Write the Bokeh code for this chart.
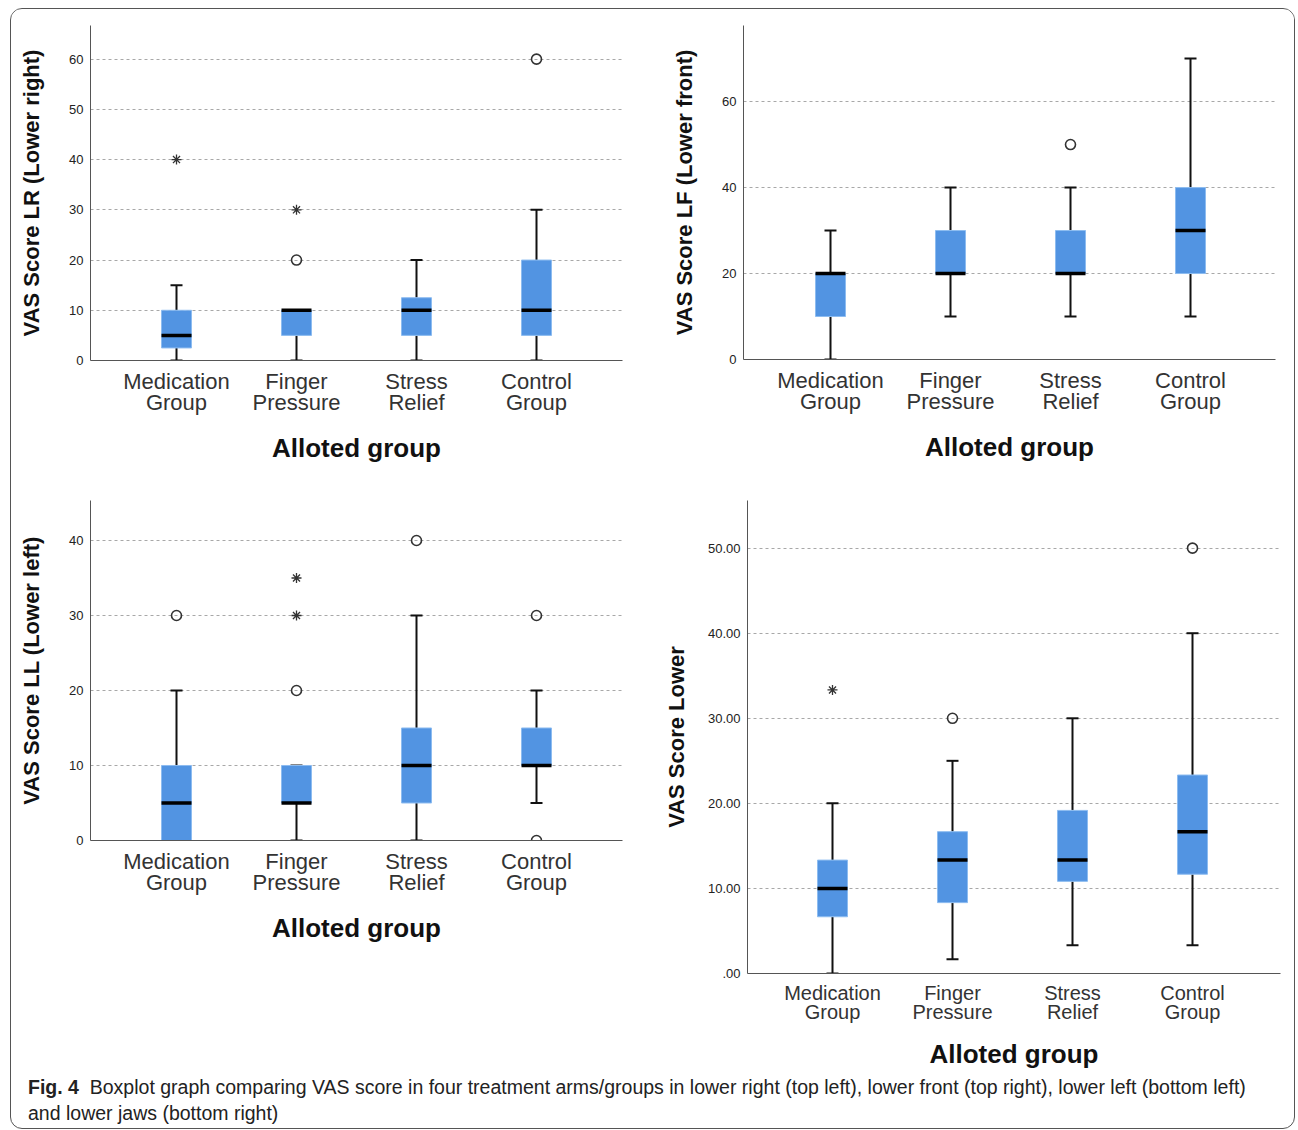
from bokeh.plotting import figure
from bokeh.models import FixedTicker, Range1d, Div
from bokeh.layouts import column, row
from bokeh.embed import file_html
from bokeh.resources import INLINE

# ---------------- data ----------------
group_labels = ["Medication\nGroup", "Finger\nPressure", "Stress\nRelief", "Control\nGroup"]
group_pos = [1, 2, 3, 4]

# Top-left: VAS Score LR (Lower right)
lr_low = [0, 0, 0, 0]
lr_q1 = [2.5, 5, 5, 5]
lr_med = [5, 10, 10, 10]
lr_q3 = [10, 10, 12.5, 20]
lr_high = [15, 10, 20, 30]
lr_circle_grp = [2, 4]
lr_circle_val = [20, 60]
lr_star_grp = [1, 2]
lr_star_val = [40, 30]
lr_ticks = [0, 10, 20, 30, 40, 50, 60]
lr_tick_labels = ["0", "10", "20", "30", "40", "50", "60"]

# Top-right: VAS Score LF (Lower front)
lf_low = [0, 10, 10, 10]
lf_q1 = [10, 20, 20, 20]
lf_med = [20, 20, 20, 30]
lf_q3 = [20, 30, 30, 40]
lf_high = [30, 40, 40, 70]
lf_circle_grp = [3]
lf_circle_val = [50]
lf_star_grp = []
lf_star_val = []
lf_ticks = [0, 20, 40, 60]
lf_tick_labels = ["0", "20", "40", "60"]

# Bottom-left: VAS Score LL (Lower left)
ll_low = [0, 0, 0, 5]
ll_q1 = [0, 5, 5, 10]
ll_med = [5, 5, 10, 10]
ll_q3 = [10, 10, 15, 15]
ll_high = [20, 10, 30, 20]
ll_circle_grp = [1, 2, 3, 4, 4]
ll_circle_val = [30, 20, 40, 30, 0]
ll_star_grp = [2, 2]
ll_star_val = [30, 35]
ll_ticks = [0, 10, 20, 30, 40]
ll_tick_labels = ["0", "10", "20", "30", "40"]

# Bottom-right: VAS Score Lower
lo_low = [0, 1.67, 3.33, 3.33]
lo_q1 = [6.67, 8.33, 10.83, 11.67]
lo_med = [10, 13.33, 13.33, 16.67]
lo_q3 = [13.33, 16.67, 19.17, 23.33]
lo_high = [20, 25, 30, 40]
lo_circle_grp = [2, 4]
lo_circle_val = [30, 50]
lo_star_grp = [1]
lo_star_val = [33.33]
lo_ticks = [0, 10, 20, 30, 40, 50]
lo_tick_labels = [".00", "10.00", "20.00", "30.00", "40.00", "50.00"]

# ---------------- style ----------------
FONT = "Liberation Sans"
BOX_FILL = "#5294e2"
BOX_EDGE = "#8dbcf0"
DARK = "#111111"


def panel(title, low, q1, med, q3, high, cgrp, cval, sgrp, sval, ticks, tlabels,
          ymax, frame_w, frame_h, left, right, top, bottom, x_off,
          ytitle_standoff, cat_size, cat_lh, xt_size, xt_standoff):
    px_per_unit = 120.0
    xs = 1 - x_off / px_per_unit
    xe = xs + frame_w / px_per_unit
    p = figure(frame_width=frame_w, frame_height=frame_h,
               x_range=Range1d(xs, xe), y_range=Range1d(0, ymax),
               toolbar_location=None, tools="", output_backend="svg",
               min_border_left=left, min_border_right=right,
               min_border_top=top, min_border_bottom=bottom)
    p.outline_line_color = None
    p.background_fill_color = "white"
    p.border_fill_color = "white"

    # grid
    p.xgrid.visible = False
    p.ygrid.grid_line_color = "#a8a8a8"
    p.ygrid.grid_line_dash = "3 3"
    p.ygrid.grid_line_width = 1

    # axes
    xa = p.xaxis[0]
    xa.ticker = FixedTicker(ticks=group_pos)
    xa.major_label_overrides = {k: v for k, v in zip(group_pos, group_labels)}
    xa.major_label_text_font = FONT
    xa.major_label_text_font_size = f"{cat_size}px"
    xa.major_label_text_line_height = cat_lh
    xa.major_label_text_color = "#333333"
    xa.major_label_standoff = 8
    xa.major_tick_out = 0
    xa.major_tick_in = 0
    xa.minor_tick_out = 0
    xa.minor_tick_in = 0
    xa.axis_line_color = "#555555"
    xa.axis_label = "Alloted group"
    xa.axis_label_text_font = FONT
    xa.axis_label_text_font_style = "bold"
    xa.axis_label_text_font_size = f"{xt_size}px"
    xa.axis_label_text_color = DARK
    xa.axis_label_standoff = xt_standoff

    ya = p.yaxis[0]
    ya.ticker = FixedTicker(ticks=ticks)
    ya.major_label_overrides = {k: v for k, v in zip(ticks, tlabels)}
    ya.major_label_text_font = FONT
    ya.major_label_text_font_size = "13px"
    ya.major_label_text_color = "#222222"
    ya.major_label_standoff = 7
    ya.major_tick_out = 0
    ya.major_tick_in = 0
    ya.minor_tick_out = 0
    ya.minor_tick_in = 0
    ya.axis_line_color = "#555555"
    ya.axis_label = title
    ya.axis_label_text_font = FONT
    ya.axis_label_text_font_style = "bold"
    ya.axis_label_text_font_size = "22px"
    ya.axis_label_text_color = DARK
    ya.axis_label_standoff = ytitle_standoff

    bw = 0.25
    cw = 0.05
    # whiskers
    p.segment(x0=group_pos, y0=low, x1=group_pos, y1=q1, line_color=DARK, line_width=2)
    p.segment(x0=group_pos, y0=q3, x1=group_pos, y1=high, line_color=DARK, line_width=2)
    p.segment(x0=[g - cw for g in group_pos], y0=low, x1=[g + cw for g in group_pos], y1=low,
              line_color=DARK, line_width=2)
    p.segment(x0=[g - cw for g in group_pos], y0=high, x1=[g + cw for g in group_pos], y1=high,
              line_color=DARK, line_width=2)
    # boxes
    p.vbar(x=group_pos, width=bw, bottom=q1, top=q3, fill_color=BOX_FILL,
           line_color=BOX_EDGE, line_width=1)
    # medians
    p.segment(x0=[g - bw / 2 for g in group_pos], y0=med, x1=[g + bw / 2 for g in group_pos], y1=med,
              line_color="black", line_width=3.5)
    # outliers
    if cgrp:
        p.scatter(x=cgrp, y=cval, marker="circle", size=10, fill_color=None,
                  line_color="#333333", line_width=1.6)
    if sgrp:
        p.scatter(x=sgrp, y=sval, marker="asterisk", size=10,
                  line_color="#333333", line_width=1.3)
    return p


p1 = panel("VAS Score LR (Lower right)", lr_low, lr_q1, lr_med, lr_q3, lr_high,
           lr_circle_grp, lr_circle_val, lr_star_grp, lr_star_val, lr_ticks, lr_tick_labels,
           ymax=66.7, frame_w=532, frame_h=335, left=79, right=29, top=16, bottom=120,
           x_off=86, ytitle_standoff=22, cat_size=22, cat_lh=0.87, xt_size=26, xt_standoff=15)
p2 = panel("VAS Score LF (Lower front)", lf_low, lf_q1, lf_med, lf_q3, lf_high,
           lf_circle_grp, lf_circle_val, lf_star_grp, lf_star_val, lf_ticks, lf_tick_labels,
           ymax=77.7, frame_w=532, frame_h=334, left=92, right=19, top=16, bottom=121,
           x_off=87, ytitle_standoff=22, cat_size=22, cat_lh=0.87, xt_size=26, xt_standoff=15)
p3 = panel("VAS Score LL (Lower left)", ll_low, ll_q1, ll_med, ll_q3, ll_high,
           ll_circle_grp, ll_circle_val, ll_star_grp, ll_star_val, ll_ticks, ll_tick_labels,
           ymax=45.33, frame_w=532, frame_h=340, left=79, right=29, top=20, bottom=232,
           x_off=86, ytitle_standoff=22, cat_size=22, cat_lh=0.87, xt_size=26, xt_standoff=15)
p4 = panel("VAS Score Lower", lo_low, lo_q1, lo_med, lo_q3, lo_high,
           lo_circle_grp, lo_circle_val, lo_star_grp, lo_star_val, lo_ticks, lo_tick_labels,
           ymax=55.6, frame_w=533, frame_h=473, left=96, right=14, top=20, bottom=99,
           x_off=85, ytitle_standoff=16, cat_size=20, cat_lh=0.87, xt_size=26, xt_standoff=13)

caption = Div(
    text=("<b>Fig. 4</b>&nbsp; Boxplot graph comparing VAS score in four treatment arms/groups in "
          "lower right (top left), lower front (top right), lower left (bottom left)<br>"
          "and lower jaws (bottom right)"),
    width=1266, height=56, margin=(0, 0, 0, 0),
    styles={"font-family": "Liberation Sans, sans-serif", "font-size": "19.5px",
            "line-height": "26px", "color": "#222", "padding-left": "17px",
            "white-space": "nowrap", "transform": "translateY(2px)"})

layout = column(row(p1, p2), row(p3, p4), caption, margin=(8, 0, 0, 10),
                styles={"border": "1px solid #555", "border-radius": "12px",
                        "background": "white", "overflow": "hidden"})

open("out.html", "w").write(file_html(layout, INLINE))
